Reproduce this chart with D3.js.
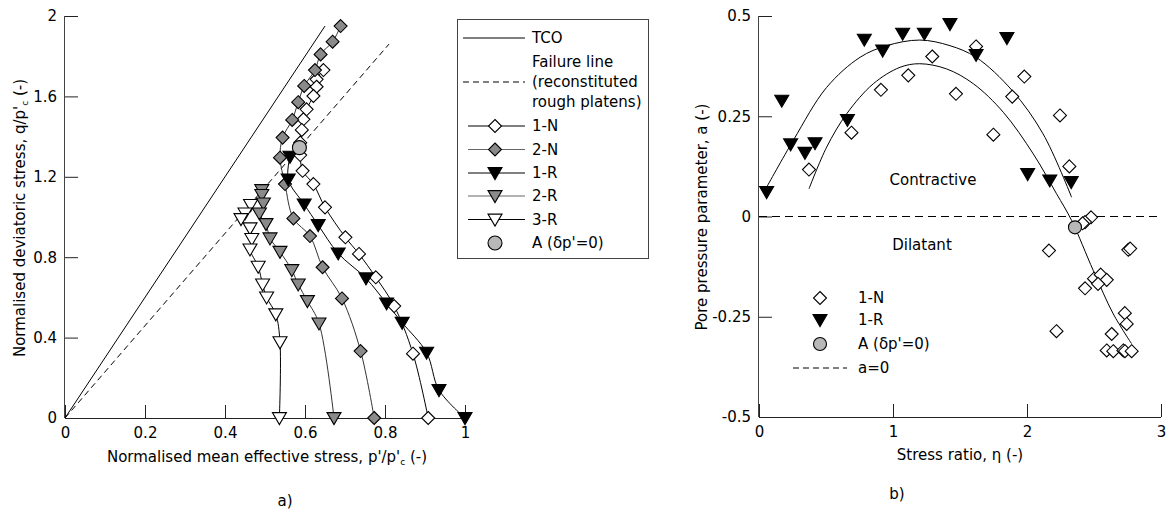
<!DOCTYPE html>
<html><head><meta charset="utf-8">
<script src="https://cdn.jsdelivr.net/npm/d3@7"></script>
<style>
html,body{margin:0;padding:0;background:#fff;}
svg text{font-family:"DejaVu Sans",Verdana,sans-serif;fill:#000;}
</style></head>
<body><svg id="c" width="1166" height="517"></svg>
<script>
// ---------- Panel a) data: normalised p'/p'c and q/p'c ----------
const n1P = [0.646,0.629,0.629,0.621,0.604,0.596,0.592,0.588,0.588,0.594,0.621,0.65,0.701,0.735,0.777,0.823,0.87,0.908];
const n1Q = [1.731,1.685,1.648,1.602,1.536,1.486,1.433,1.37,1.308,1.23,1.164,1.048,0.899,0.816,0.70,0.557,0.32,0];
const n2P = [0.689,0.669,0.639,0.625,0.598,0.583,0.568,0.544,0.5375,0.55,0.571,0.6125,0.644,0.6925,0.739,0.773];
const n2Q = [1.95,1.872,1.809,1.731,1.652,1.571,1.483,1.395,1.295,1.164,0.993,0.905,0.75,0.595,0.333,0];
const r1P = [0.5625,0.558,0.598,0.633,0.683,0.7525,0.804,0.843,0.904,0.935,1.0];
const r1Q = [1.30,1.187,1.063,0.96,0.819,0.695,0.57,0.474,0.325,0.139,0];
const r2P = [0.492,0.492,0.496,0.486,0.5025,0.5125,0.5375,0.567,0.583,0.606,0.635,0.6725];
const r2Q = [1.134,1.11,1.068,1.018,0.965,0.894,0.827,0.736,0.665,0.582,0.471,0];
const r3P = [0.464,0.45,0.44,0.4625,0.467,0.4625,0.483,0.494,0.504,0.527,0.5375,0.536];
const r3Q = [1.06,1.018,0.99,0.944,0.891,0.839,0.753,0.665,0.60,0.516,0.377,0];
const aLeft = [0.586, 1.345];
const tcoP = [0, 0.65], tcoQ = [0, 1.95];
const failP = [0, 0.81], failQ = [0, 1.86];
const leftXTicks = [0,0.2,0.4,0.6,0.8,1];
const leftYTicks = [0,0.4,0.8,1.2,1.6,2];

// ---------- Panel b) data: stress ratio eta and pore pressure parameter a ----------
const bN_eta = [0.373,0.69,0.91,1.114,1.293,1.47,1.62,1.749,1.89,1.98,2.246,2.316,2.478,2.433,2.415,2.164,2.756,2.77,2.50,2.55,2.595,2.433,2.53,2.73,2.744,2.22,2.632,2.595,2.644,2.719,2.731,2.781];
const bN_a   = [0.117,0.209,0.316,0.352,0.399,0.306,0.424,0.204,0.299,0.349,0.252,0.125,-0.002,-0.014,-0.017,-0.085,-0.083,-0.08,-0.155,-0.145,-0.158,-0.179,-0.168,-0.241,-0.268,-0.286,-0.293,-0.334,-0.336,-0.334,-0.336,-0.336];
const bR_eta = [0.057,0.17,0.236,0.343,0.418,0.66,0.786,0.923,1.072,1.234,1.425,1.62,1.85,2.005,2.17,2.33];
const bR_a   = [0.061,0.289,0.18,0.159,0.183,0.241,0.441,0.414,0.456,0.456,0.48,0.403,0.445,0.106,0.09,0.086];
const aRight = [2.358, -0.027];
const fitR_eta = [0.057,0.256,0.505,0.754,0.953,1.2,1.425,1.62,1.89,2.12,2.333];
const fitR_a   = [0.073,0.19,0.322,0.397,0.426,0.44,0.426,0.397,0.314,0.206,0.048];
const fitN_eta = [0.373,0.505,0.654,0.853,1.052,1.2,1.4,1.6,1.823,2.047,2.22,2.333,2.495,2.644,2.78];
const fitN_a   = [0.069,0.173,0.256,0.331,0.372,0.381,0.368,0.331,0.26,0.156,0.057,-0.01,-0.135,-0.243,-0.317];
const rightXTicks = [0,1,2,3];
const rightYTicks = [-0.5,-0.25,0,0.25,0.5];

const FS = 15;
const GRAY = "#8a8a8a", LGRAY = "#b8b8b8", LINEG = "#666";
const svg = d3.select("#c");

// scales
const xL = d3.scaleLinear().domain([0,1]).range([65,465]);
const yL = d3.scaleLinear().domain([0,2]).range([418,16]);
const xR = d3.scaleLinear().domain([0,3]).range([759,1161]);
const yR = d3.scaleLinear().domain([-0.5,0.5]).range([417,16]);

const zip = (a,b)=>a.map((v,i)=>[v,b[i]]);

// marker helpers
function diamond(g,x,y,fill,s=6.5){
  g.append("path").attr("d",`M${x},${y-s}L${x+s},${y}L${x},${y+s}L${x-s},${y}Z`)
   .attr("fill",fill).attr("stroke","#000").attr("stroke-width",1.1);
}
function tri(g,x,y,fill,w=7,h=12){
  g.append("path").attr("d",`M${x-w},${y-h*0.45}L${x+w},${y-h*0.45}L${x},${y+h*0.55}Z`)
   .attr("fill",fill).attr("stroke","#000").attr("stroke-width",1.1);
}
function circ(g,x,y,r=7){
  g.append("circle").attr("cx",x).attr("cy",y).attr("r",r).attr("fill",LGRAY).attr("stroke","#000").attr("stroke-width",1.1);
}

// ---------- axes (ticks pointing inward) ----------
function axisBottomInward(g, scale, y, majors, minors, fmt){
  const gx = g.append("g").attr("transform",`translate(0,${y})`);
  gx.call(d3.axisBottom(scale).tickValues(minors).tickSize(-7).tickFormat(""));
  gx.call(d3.axisBottom(scale).tickValues(majors).tickSize(-13).tickPadding(9).tickFormat(fmt));
  gx.selectAll("line").attr("stroke","#222");
  gx.selectAll("text").attr("font-size",FS).attr("font-family","DejaVu Sans");
  return gx;
}
function axisLeftInward(g, scale, x, majors, minors, fmt){
  const gy = g.append("g").attr("transform",`translate(${x},0)`);
  gy.call(d3.axisLeft(scale).tickValues(minors).tickSize(-7).tickFormat(""));
  gy.call(d3.axisLeft(scale).tickValues(majors).tickSize(-13).tickPadding(8).tickFormat(fmt));
  gy.selectAll("line").attr("stroke","#222");
  gy.selectAll("text").attr("font-size",FS).attr("font-family","DejaVu Sans");
  return gy;
}
const fmtL = d => d===0?"0":d===1?"1":d===2?"2":d3.format(".1f")(d);
axisBottomInward(svg, xL, 418, leftXTicks, d3.range(0.1,1,0.2), fmtL);
axisLeftInward(svg, yL, 65, leftYTicks, d3.range(0.2,2,0.4), fmtL);
const fmtR = d => d===0?"0":String(d);
axisBottomInward(svg, xR, 417, rightXTicks, [0.5,1.5,2.5], fmtR);
axisLeftInward(svg, yR, 759, rightYTicks, [-0.375,-0.125,0.125,0.375], fmtR);
svg.selectAll("path.domain").remove();
// axis lines
svg.append("line").attr("x1",xL(0)).attr("x2",xL(1)).attr("y1",yL(0)+0.5).attr("y2",yL(0)+0.5).attr("stroke","#222");
svg.append("line").attr("x1",xL(0)-0.5).attr("x2",xL(0)-0.5).attr("y1",yL(0)).attr("y2",yL(2)).attr("stroke","#444");
svg.append("line").attr("x1",xR(0)).attr("x2",xR(3)).attr("y1",yR(-0.5)+0.5).attr("y2",yR(-0.5)+0.5).attr("stroke","#222");
svg.append("line").attr("x1",xR(0)-0.5).attr("x2",xR(0)-0.5).attr("y1",yR(-0.5)).attr("y2",yR(0.5)).attr("stroke","#444");

// ---------- panel a) ----------
const gA = svg.append("g");
const lineL = d3.line().x(d=>xL(d[0])).y(d=>yL(d[1]));
gA.append("path").attr("d",lineL(zip(tcoP,tcoQ))).attr("fill","none").attr("stroke","#000").attr("stroke-width",1);
gA.append("path").attr("d",lineL(zip(failP,failQ))).attr("fill","none").attr("stroke","#000").attr("stroke-width",1).attr("stroke-dasharray","6,4");
const smooth = d3.line().x(d=>xL(d[0])).y(d=>yL(d[1])).curve(d3.curveCatmullRom.alpha(0.5));
[[n1P,n1Q,"#000"],[n2P,n2Q,"#333"],[r1P,r1Q,"#000"],[r2P,r2Q,"#333"],[r3P,r3Q,"#000"]].forEach(([p,q,c])=>{
  gA.append("path").attr("d",smooth(zip(p,q))).attr("fill","none").attr("stroke",c).attr("stroke-width",1);
});
zip(n1P,n1Q).forEach(d=>diamond(gA,xL(d[0]),yL(d[1]),"#fff"));
zip(n2P,n2Q).forEach(d=>diamond(gA,xL(d[0]),yL(d[1]),GRAY));
zip(r3P,r3Q).forEach(d=>tri(gA,xL(d[0]),yL(d[1]),"#fff"));
zip(r2P,r2Q).forEach(d=>tri(gA,xL(d[0]),yL(d[1]),GRAY));
zip(r1P,r1Q).forEach(d=>tri(gA,xL(d[0]),yL(d[1]),"#000"));
circ(gA,xL(aLeft[0]),yL(aLeft[1]),7);

// legend a)
const lg = svg.append("g");
lg.append("rect").attr("x",457.5).attr("y",19.5).attr("width",191).attr("height",239).attr("fill","#fff").attr("stroke","#444");
const lx1=463, lx2=525, lmx=495, ltx=532;
function ltext(t,y){ lg.append("text").attr("x",ltx).attr("y",y).attr("dy","0.35em").attr("font-size",FS).text(t); }
lg.append("line").attr("x1",lx1).attr("x2",lx2).attr("y1",38).attr("y2",38).attr("stroke","#000");
ltext("TCO",38);
lg.append("line").attr("x1",lx1).attr("x2",lx2).attr("y1",82).attr("y2",82).attr("stroke","#000").attr("stroke-dasharray","6,4");
ltext("Failure line",62); ltext("(reconstituted",82); ltext("rough platens)",102);
const legRows = [["1-N","#000","d","#fff",126],["2-N",LINEG,"d",GRAY,149.5],["1-R","#000","t","#000",173],["2-R",LINEG,"t",GRAY,196],["3-R","#000","t","#fff",219.5]];
legRows.forEach(([t,lc,m,f,y])=>{
  lg.append("line").attr("x1",lx1+5).attr("x2",lx2).attr("y1",y).attr("y2",y).attr("stroke",lc);
  if(m==="d") diamond(lg,lmx,y,f); else tri(lg,lmx,y,f);
  ltext(t,y);
});
circ(lg,lmx,243,7);
lg.append("text").attr("x",ltx).attr("y",243).attr("dy","0.35em").attr("font-size",FS).text("A (δp'=0)");

// axis titles a)
const ytA = svg.append("text").attr("transform","translate(25,218) rotate(-90)").attr("text-anchor","middle").attr("font-size",FS);
ytA.append("tspan").text("Normalised deviatoric stress, q/p'");
ytA.append("tspan").attr("font-size",9).attr("dy",3).text("c");
ytA.append("tspan").attr("dy",-3).text(" (-)");
const xtA = svg.append("text").attr("x",267).attr("y",462).attr("text-anchor","middle").attr("font-size",FS);
xtA.append("tspan").text("Normalised mean effective stress, p'/p'");
xtA.append("tspan").attr("font-size",9).attr("dy",3).text("c");
xtA.append("tspan").attr("dy",-3).text(" (-)");
svg.append("text").attr("x",285).attr("y",506).attr("text-anchor","middle").attr("font-size",FS).text("a)");

// ---------- panel b) ----------
const gB = svg.append("g");
gB.append("line").attr("x1",xR(0)).attr("x2",xR(3)).attr("y1",yR(0)).attr("y2",yR(0)).attr("stroke","#000").attr("stroke-dasharray","8,5");
const lineR = d3.line().x(d=>xR(d[0])).y(d=>yR(d[1])).curve(d3.curveCatmullRom.alpha(0.5));
gB.append("path").attr("d",lineR(zip(fitR_eta,fitR_a))).attr("fill","none").attr("stroke","#000").attr("stroke-width",1);
gB.append("path").attr("d",lineR(zip(fitN_eta,fitN_a))).attr("fill","none").attr("stroke","#000").attr("stroke-width",1);
zip(bN_eta,bN_a).forEach(d=>diamond(gB,xR(d[0]),yR(d[1]),"#fff"));
zip(bR_eta,bR_a).forEach(d=>tri(gB,xR(d[0]),yR(d[1]),"#000"));
circ(gB,xR(aRight[0]),yR(aRight[1]),6.5);
gB.append("text").attr("x",933).attr("y",180).attr("dy","0.35em").attr("text-anchor","middle").attr("font-size",FS).text("Contractive");
gB.append("text").attr("x",922).attr("y",245).attr("dy","0.35em").attr("text-anchor","middle").attr("font-size",FS).text("Dilatant");

// legend b)
const lb = svg.append("g");
diamond(lb,820,298,"#fff");
tri(lb,820,320,"#000");
circ(lb,820,344,6.5);
lb.append("line").attr("x1",793).attr("x2",847).attr("y1",368).attr("y2",368).attr("stroke","#000").attr("stroke-dasharray","6,4");
[["1-N",298],["1-R",320],["A (δp'=0)",344],["a=0",368]].forEach(([t,y])=>{
  lb.append("text").attr("x",858).attr("y",y).attr("dy","0.35em").attr("font-size",FS).text(t);
});

svg.append("text").attr("transform","translate(702,217) rotate(-90)").attr("text-anchor","middle").attr("dy","0.35em").attr("font-size",FS).text("Pore pressure parameter, a (-)");
svg.append("text").attr("x",960).attr("y",460).attr("text-anchor","middle").attr("font-size",FS).text("Stress ratio, η (-)");
svg.append("text").attr("x",897).attr("y",499).attr("text-anchor","middle").attr("font-size",FS).text("b)");
</script></body></html>
